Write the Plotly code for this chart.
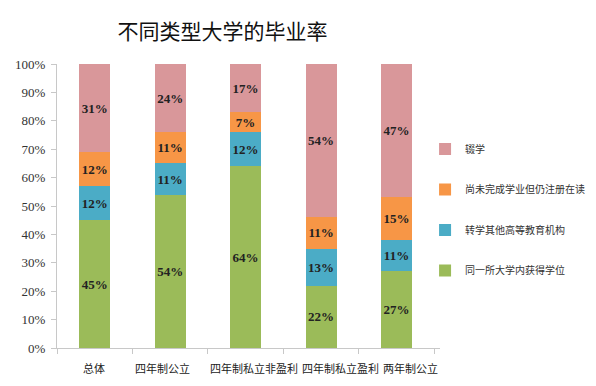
import plotly.graph_objects as go

categories = ["总体", "四年制公立", "四年制私立非盈利", "四年制私立盈利", "两年制公立"]
same_school = [45, 54, 64, 22, 27]
transferred = [12, 11, 12, 13, 11]
still_enrolled = [12, 11, 7, 11, 15]
dropped_out = [31, 24, 17, 54, 47]

series = [
    ("同一所大学内获得学位", same_school, "#9BBB59", 4),
    ("转学其他高等教育机构", transferred, "#4BACC6", 3),
    ("尚未完成学业但仍注册在读", still_enrolled, "#F79646", 2),
    ("辍学", dropped_out, "#D9979A", 1),
]

# horizontal nudges of the category labels (pixels), as in the reference
label_shift = [-1, -8, 8, 19, 14]

fig = go.Figure()
for i, (name, vals, color, rank) in enumerate(series):
    fig.add_trace(go.Bar(
        x=categories, y=vals, name=name,
        marker=dict(color=color, line=dict(width=0)),
        text=["<b>%d%%</b>" % v for v in vals],
        textposition="inside",
        insidetextanchor="middle",
        textangle=0,
        textfont=dict(family="Liberation Serif", size=13, color="#222222"),
        legendgroup="g%d" % i,
        legendrank=rank,
        hoverinfo="skip",
    ))

for cat, dx in zip(categories, label_shift):
    fig.add_annotation(x=cat, y=0, xref="x", yref="paper", yanchor="top",
                       yshift=-10, xshift=dx, showarrow=False, text=cat,
                       font=dict(family="Noto Sans CJK SC", size=11, color="#222222"))

fig.update_layout(
    barmode="stack",
    bargap=0.59,
    width=596, height=386,
    margin=dict(l=49, r=164, t=56, b=46, autoexpand=False),
    paper_bgcolor="white", plot_bgcolor="white",
    uniformtext=dict(minsize=13, mode="show"),
    title=dict(text="不同类型大学的毕业率", x=0.36, xanchor="center", y=0.94, yanchor="middle",
               font=dict(family="Noto Sans CJK SC", size=21, color="#111111")),
    legend=dict(x=0.961, xanchor="left", y=0.752, yanchor="top",
                traceorder="grouped", tracegroupgap=21.5,
                font=dict(family="Noto Sans CJK SC", size=10, color="#333333"),
                itemwidth=30, bgcolor="rgba(0,0,0,0)"),
    showlegend=True,
)
fig.update_yaxes(range=[0, 100], dtick=10, ticksuffix="%", showgrid=False,
                 showline=True, linecolor="#C8C8C8", linewidth=1,
                 ticks="outside", ticklen=5, tickcolor="#C8C8C8",
                 tickfont=dict(family="Liberation Serif", size=13, color="#333333"),
                 ticklabelstandoff=3, automargin=False,
                 zeroline=False, fixedrange=True)
fig.update_xaxes(showgrid=False, showline=True, linecolor="#C8C8C8", linewidth=1,
                 ticks="outside", tickson="boundaries", ticklen=5, tickcolor="#C8C8C8",
                 showticklabels=False, automargin=False, fixedrange=True)

fig.write_html("out.html")
